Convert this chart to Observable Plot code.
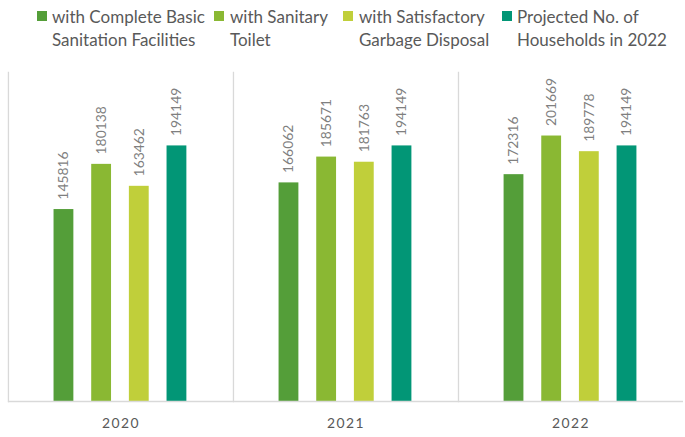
<!DOCTYPE html>
<html>
<head>
<meta charset="utf-8">
<script src="https://cdn.jsdelivr.net/npm/d3@7"></script>
<script src="https://cdn.jsdelivr.net/npm/@observablehq/plot@0.6"></script>
<style>
  html, body { margin: 0; padding: 0; background: #fff; overflow: hidden; width: 685px; height: 437px; }
  #legend { position: relative; height: 60px; font-family: Lato, "Open Sans", sans-serif; font-size: 17px; color: #595959; }
  .sw { position: absolute; width: 10px; height: 10px; top: 11px; }
  .lbl { position: absolute; top: 5px; line-height: 23px; white-space: pre; }
  #chart g[aria-label="fx-axis tick label"] text { letter-spacing: 1.5px; }
</style>
</head>
<body>
<div id="legend"></div>
<div id="chart"></div>
<script>
const years = ["2020", "2021", "2022"];
const series = [
  "with Complete Basic Sanitation Facilities",
  "with Sanitary Toilet",
  "with Satisfactory Garbage Disposal",
  "Projected No. of Households in 2022"
];
const legendLines = [
  ["with Complete Basic", "Sanitation Facilities"],
  ["with Sanitary", "Toilet"],
  ["with Satisfactory", "Garbage Disposal"],
  ["Projected No. of", "Households in 2022"]
];
const completeBasic = [145816, 166062, 172316];
const sanitaryToilet = [180138, 185671, 201669];
const garbageDisposal = [163462, 181763, 189778];
const projected = [194149, 194149, 194149];
const colors = ["#549E39", "#8AB833", "#C0CF3A", "#029676"];

const seriesValues = [completeBasic, sanitaryToilet, garbageDisposal, projected];
const data = [];
years.forEach((yr, i) => {
  series.forEach((s, j) => data.push({year: yr, series: s, value: seriesValues[j][i]}));
});

// Legend
const legendSwatchX = [37, 214, 343, 502];
const legendTextX = [52, 230, 359, 517];
const legend = document.getElementById("legend");
series.forEach((s, j) => {
  const sw = document.createElement("div");
  sw.className = "sw";
  sw.style.left = legendSwatchX[j] + "px";
  sw.style.background = colors[j];
  legend.appendChild(sw);
  const lb = document.createElement("div");
  lb.className = "lbl";
  lb.style.left = legendTextX[j] + "px";
  lb.textContent = legendLines[j].join("\n");
  legend.appendChild(lb);
});

const chart = Plot.plot({
  width: 691,
  height: 377,
  marginTop: 12,
  marginBottom: 33,
  marginLeft: 7,
  marginRight: 1,
  style: {fontFamily: "Lato, 'Open Sans', sans-serif", overflow: "visible", background: "transparent"},
  fx: {domain: years, padding: 0, label: null},
  x: {domain: series, paddingInner: 0.47, paddingOuter: 1.2, axis: null},
  y: {domain: [0, 250000], axis: null},
  color: {domain: series, range: colors},
  marks: [
    Plot.frame({anchor: "left", stroke: "#d9d9d9", strokeWidth: 1.3}),
    Plot.barY(data, {fx: "year", x: "series", y: "value", fill: "series"}),
    Plot.ruleY([0], {stroke: "#d9d9d9", strokeWidth: 1.3}),
    Plot.text(data, {
      fx: "year", x: "series", y: "value",
      text: d => String(d.value),
      rotate: -90, textAnchor: "start", lineAnchor: "middle",
      dy: -10, fill: "#7f7f7f", fontSize: 14
    }),
    Plot.axisFx({anchor: "bottom", tickSize: 0, tickPadding: 17, fontSize: 14, color: "#595959", label: null})
  ]
});
document.getElementById("chart").appendChild(chart);
</script>
</body>
</html>
